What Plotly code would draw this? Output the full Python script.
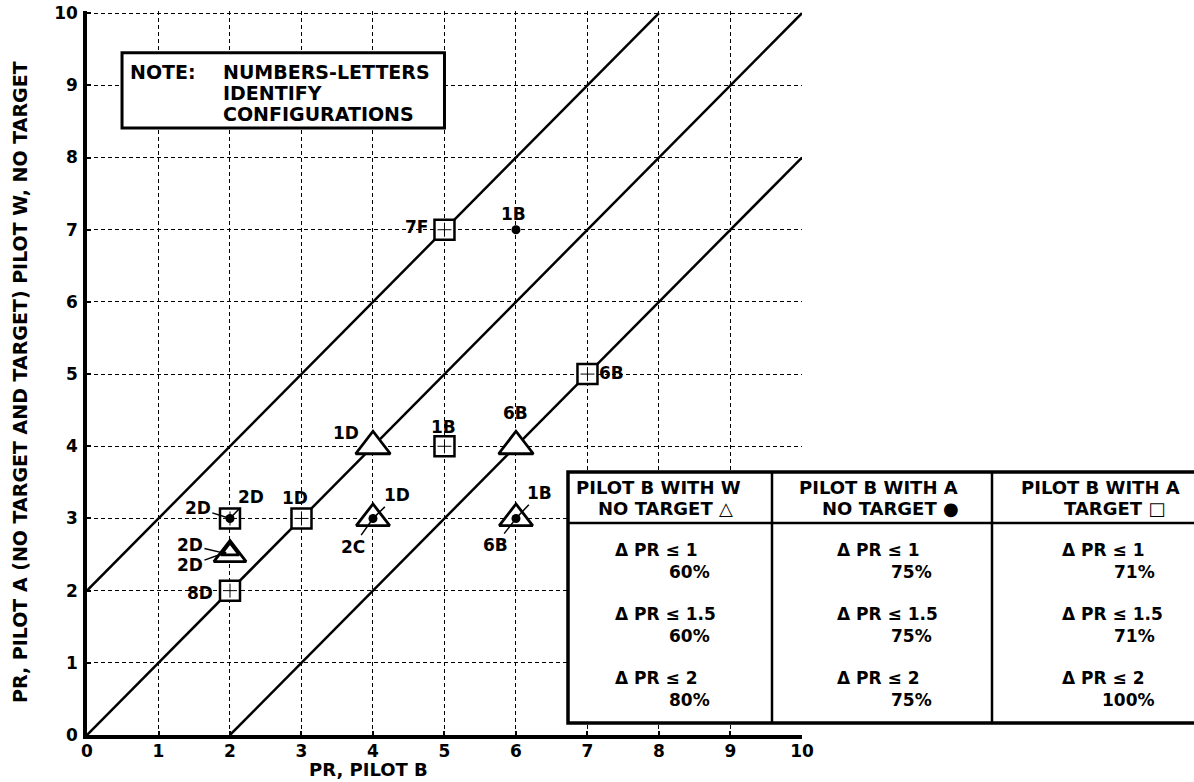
import plotly.graph_objects as go

# ---------------- data ----------------
x_ticks = list(range(0, 11))
y_ticks = list(range(0, 11))

# Pilot B with W, no target  (triangles)
tri_x = [4, 6, 4, 6, 2, 2]
tri_y = [4, 4, 3, 3, 2.5, 2.55]
tri_lbl = ["1D", "6B", "1D", "1B", "2D", "2D"]

# Pilot B with A, no target  (dots)
dot_x = [6, 4, 6, 2]
dot_y = [7, 3, 3, 3]
dot_lbl = ["1B", "2C", "6B", "2D"]

# Pilot B with A, target  (squares)
sq_x = [5, 7, 5, 3, 2, 2]
sq_y = [7, 5, 4, 3, 3, 2]
sq_lbl = ["7F", "6B", "1B", "1D", "2D", "8D"]

# reference lines  y = x + offset
line_offsets = [2, 0, -2]

# summary table
col_head1 = ["PILOT B WITH W", "PILOT B WITH A", "PILOT B WITH A"]
col_head2 = ["NO TARGET \u25B3", "NO TARGET \u25CF", "TARGET \u25A1"]
dpr_limits = ["1", "1.5", "2"]
pct_w_nt = ["60%", "60%", "80%"]
pct_a_nt = ["75%", "75%", "75%"]
pct_a_t = ["71%", "71%", "100%"]

note_lines = ["NUMBERS-LETTERS", "IDENTIFY", "CONFIGURATIONS"]

# ---------------- layout helpers ----------------
# page body margin is removed (post_script), so figure pixels == window pixels
W, H = 1194, 782
L, R, T, B = 87, 392, 11, 47
PW, PH = W - L - R, H - T - B
OFF = 0


def px(xp):  # window pixel -> paper
    return (xp - OFF - L) / PW


def py(yp):
    return (H - B - (yp - OFF)) / PH


FONT = "DejaVu Sans, Verdana, sans-serif"
BLK = "black"

fig = go.Figure()

# reference lines
for off in line_offsets:
    xs = [max(0, -off), min(10, 10 - off)]
    fig.add_trace(go.Scatter(x=xs, y=[v + off for v in xs], mode="lines",
                             line=dict(color=BLK, width=2.5),
                             hoverinfo="skip", showlegend=False))

tri_sizes = [30, 30, 29, 29, 28, 16]
fig.add_trace(go.Scatter(x=tri_x, y=tri_y, mode="markers", showlegend=False,
                         marker=dict(symbol="triangle-up", size=tri_sizes, color="white",
                                     opacity=1, line=dict(color=BLK, width=2.8))))
fig.add_trace(go.Scatter(x=sq_x, y=sq_y, mode="markers", showlegend=False,
                         marker=dict(symbol="square", size=20, color="white", opacity=1,
                                     line=dict(color=BLK, width=2.5))))
fig.add_trace(go.Scatter(x=sq_x, y=sq_y, mode="markers", showlegend=False,
                         marker=dict(symbol="cross-thin", size=10, opacity=1,
                                     line=dict(color=BLK, width=1))))
fig.add_trace(go.Scatter(x=dot_x, y=dot_y, mode="markers", showlegend=False,
                         marker=dict(symbol="circle", size=9, color=BLK, opacity=1)))

# ---------------- point labels ----------------
lab_font = dict(family=FONT, size=17, color=BLK, weight="bold")

# (text, point x, point y, label dx, label dy, leader?)
labels = [
    (sq_lbl[0], sq_x[0], sq_y[0], -0.39, 0.04, False),
    (dot_lbl[0], dot_x[0], dot_y[0], -0.03, 0.22, False),
    (sq_lbl[1], sq_x[1], sq_y[1], 0.34, 0.01, False),
    (tri_lbl[0], tri_x[0], tri_y[0], -0.38, 0.18, False),
    (sq_lbl[2], sq_x[2], sq_y[2], -0.02, 0.27, False),
    (tri_lbl[1], tri_x[1], tri_y[1], -0.01, 0.46, False),
    (sq_lbl[3], sq_x[3], sq_y[3], -0.09, 0.28, False),
    (sq_lbl[5], sq_x[5], sq_y[5], -0.42, -0.03, False),
    (sq_lbl[4], sq_x[4], sq_y[4], -0.45, 0.14, True),
    (dot_lbl[3], dot_x[3], dot_y[3], 0.29, 0.30, True),
    (tri_lbl[4], tri_x[4], tri_y[4], -0.56, 0.13, True),
    (tri_lbl[5], tri_x[5], tri_y[5], -0.56, -0.20, True),
    (tri_lbl[2], tri_x[2], tri_y[2], 0.33, 0.32, True),
    (dot_lbl[1], dot_x[1], dot_y[1], -0.28, -0.39, True),
    (tri_lbl[3], tri_x[3], tri_y[3], 0.33, 0.35, True),
    (dot_lbl[2], dot_x[2], dot_y[2], -0.29, -0.37, True),
]
for txt, x0, y0, dx, dy, lead in labels:
    if lead:
        fig.add_annotation(x=x0, y=y0, ax=x0 + dx, ay=y0 + dy, axref="x", ayref="y",
                           text=txt, showarrow=True, arrowhead=0, arrowwidth=1.5,
                           arrowcolor=BLK, standoff=4, font=lab_font)
    else:
        fig.add_annotation(x=x0 + dx, y=y0 + dy, text=txt, showarrow=False, font=lab_font)

# ---------------- note box ----------------
note_font = dict(family=FONT, size=19, color=BLK, weight="bold")
fig.add_shape(type="rect", xref="x", yref="y", x0=0.49, x1=5.0, y0=8.41, y1=9.45,
              fillcolor="white", line=dict(color=BLK, width=3), layer="above")
fig.add_annotation(xref="x", yref="y", x=0.58, y=9.18, text="NOTE:", showarrow=False,
                   xanchor="left", font=note_font)
for i, t in enumerate(note_lines):
    fig.add_annotation(xref="x", yref="y", x=1.87, y=[9.18, 8.90, 8.60][i], text=t,
                       showarrow=False, xanchor="left", font=note_font)

# ---------------- table ----------------
tl, tr, tt, tb, th = 568, 1215, 472, 723, 523
cols = [568, 772, 992, 1215]
fig.add_shape(type="rect", xref="paper", yref="paper", x0=px(tl), x1=px(tr), y0=py(tb), y1=py(tt),
              fillcolor="white", line=dict(color=BLK, width=3.5), layer="above")
fig.add_shape(type="line", xref="paper", yref="paper", x0=px(tl), x1=px(tr), y0=py(th), y1=py(th),
              line=dict(color=BLK, width=2.5), layer="above")
for c in cols[1:3]:
    fig.add_shape(type="line", xref="paper", yref="paper", x0=px(c), x1=px(c), y0=py(tb), y1=py(tt),
                  line=dict(color=BLK, width=2.5), layer="above")

head_font = dict(family=FONT, size=18, color=BLK, weight="bold")
body_font = dict(family=FONT, size=17, color=BLK, weight="bold")
head1_x = [574, 797, 1019]
head2_x = [596, 820, 1062]
body_x = [613, 835, 1060]
pct_x = [712, 934, 1157]
pcts = [pct_w_nt, pct_a_nt, pct_a_t]
row_y = [550, 614, 678]
for ci in range(3):
    fig.add_annotation(xref="paper", yref="paper", x=px(head1_x[ci]), y=py(487), text=col_head1[ci],
                       showarrow=False, xanchor="left", yanchor="middle", font=head_font)
    fig.add_annotation(xref="paper", yref="paper", x=px(head2_x[ci]), y=py(508), text=col_head2[ci],
                       showarrow=False, xanchor="left", yanchor="middle", font=head_font)
    for ri in range(3):
        fig.add_annotation(xref="paper", yref="paper", x=px(body_x[ci]), y=py(row_y[ri]),
                           text="\u0394 PR \u2264 " + dpr_limits[ri],
                           showarrow=False, xanchor="left", yanchor="middle", font=body_font)
        fig.add_annotation(xref="paper", yref="paper", x=px(pct_x[ci]), y=py(row_y[ri] + 22),
                           text=pcts[ci][ri],
                           showarrow=False, xanchor="right", yanchor="middle", font=body_font)

# ---------------- axis titles ----------------
fig.add_annotation(xref="paper", yref="paper", x=px(20), y=py(382),
                   text="PR, PILOT A (NO TARGET AND TARGET) PILOT W, NO TARGET",
                   textangle=-90, showarrow=False, xanchor="center", yanchor="middle",
                   font=dict(family=FONT, size=19, color=BLK, weight="bold"))
fig.add_annotation(xref="paper", yref="paper", x=px(368), y=py(770),
                   text="PR, PILOT B", showarrow=False, xanchor="center", yanchor="middle",
                   font=dict(family=FONT, size=18, color=BLK, weight="bold"))

tick_font = dict(family=FONT, size=17, color=BLK, weight="bold")
axis_common = dict(showgrid=True, gridcolor=BLK, gridwidth=1.3,
                   griddash="4px,3px", zeroline=False, showline=True, linecolor=BLK,
                   linewidth=3.5, ticks="inside", ticklen=4, tickwidth=2, tickcolor=BLK,
                   tickfont=tick_font, fixedrange=True, ticklabeloverflow="allow")
fig.update_xaxes(range=[0, 10.0005], tickvals=x_ticks, ticktext=[str(v) for v in x_ticks],
                 ticklabelstandoff=-2, **axis_common)
fig.update_yaxes(range=[0, 10.03], tickvals=y_ticks, ticktext=[str(v) for v in y_ticks],
                 ticklabelstandoff=2, **axis_common)

fig.update_layout(width=W, height=H, margin=dict(l=L, r=R, t=T, b=B, autoexpand=False),
                  paper_bgcolor="white", plot_bgcolor="white", showlegend=False)

fig.write_html("out.html", config={"displayModeBar": False},
               post_script="document.body.style.margin='0';document.body.style.overflow='hidden';")
